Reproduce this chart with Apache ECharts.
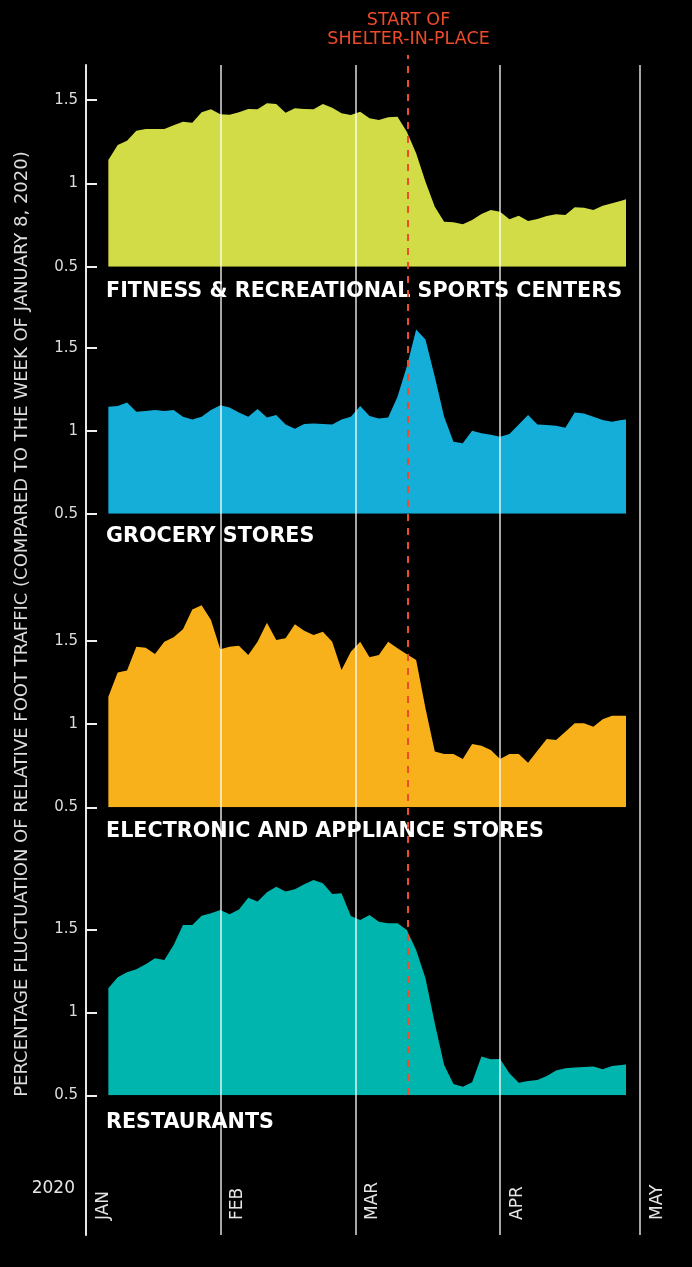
<!DOCTYPE html>
<html>
<head>
<meta charset="utf-8">
<script src="https://cdn.jsdelivr.net/npm/echarts@6/dist/echarts.min.js"></script>
<style>
  html, body { margin: 0; padding: 0; background: #000; }
  #chart { width: 692px; height: 1267px; }
</style>
</head>
<body>
<div id="chart"></div>
<script>
// one point every two days, Jan 8 -> Apr 28 2020
var dates = [
  '2020-01-08', '2020-01-10', '2020-01-12', '2020-01-14', '2020-01-16', '2020-01-18',
  '2020-01-20', '2020-01-22', '2020-01-24', '2020-01-26', '2020-01-28', '2020-01-30',
  '2020-02-01', '2020-02-03', '2020-02-05', '2020-02-07', '2020-02-09', '2020-02-11',
  '2020-02-13', '2020-02-15', '2020-02-17', '2020-02-19', '2020-02-21', '2020-02-23',
  '2020-02-25', '2020-02-27', '2020-02-29', '2020-03-02', '2020-03-04', '2020-03-06',
  '2020-03-08', '2020-03-10', '2020-03-12', '2020-03-14', '2020-03-16', '2020-03-18',
  '2020-03-20', '2020-03-22', '2020-03-24', '2020-03-26', '2020-03-28', '2020-03-30',
  '2020-04-01', '2020-04-03', '2020-04-05', '2020-04-07', '2020-04-09', '2020-04-11',
  '2020-04-13', '2020-04-15', '2020-04-17', '2020-04-19', '2020-04-21', '2020-04-23',
  '2020-04-25', '2020-04-27', '2020-04-28'
];

var fitness = [
  1.14, 1.23, 1.256, 1.316, 1.326, 1.326, 1.326, 1.348, 1.37, 1.364, 1.426, 1.444,
  1.414, 1.412, 1.426, 1.446, 1.444, 1.48, 1.476, 1.424, 1.45, 1.446, 1.444, 1.476,
  1.454, 1.42, 1.41, 1.43, 1.39, 1.38, 1.396, 1.40, 1.31, 1.18, 1.01, 0.86,
  0.77, 0.766, 0.754, 0.78, 0.816, 0.84, 0.83, 0.784, 0.806, 0.774, 0.786, 0.804,
  0.814, 0.81, 0.856, 0.854, 0.84, 0.866, 0.88, 0.896, 0.904
];

var grocery = [
  1.145, 1.149, 1.17, 1.114, 1.118, 1.125, 1.118, 1.125, 1.084, 1.068, 1.084, 1.125,
  1.153, 1.14, 1.11, 1.084, 1.13, 1.08, 1.094, 1.038, 1.012, 1.04, 1.044, 1.04,
  1.038, 1.068, 1.084, 1.149, 1.088, 1.074, 1.08, 1.205, 1.386, 1.61, 1.55, 1.325,
  1.084, 0.934, 0.924, 1.0, 0.984, 0.976, 0.964, 0.98, 1.038, 1.094, 1.038, 1.034,
  1.03, 1.018, 1.11, 1.104, 1.084, 1.064, 1.054, 1.064, 1.068
];

var electronics = [
  1.165, 1.31, 1.322, 1.466, 1.46, 1.422, 1.496, 1.522, 1.57, 1.69, 1.715, 1.626,
  1.45, 1.466, 1.472, 1.416, 1.496, 1.61, 1.506, 1.516, 1.6, 1.562, 1.536, 1.556,
  1.496, 1.326, 1.436, 1.496, 1.402, 1.416, 1.496, 1.456, 1.42, 1.386, 1.095, 0.835,
  0.82, 0.82, 0.79, 0.88, 0.87, 0.845, 0.79, 0.82, 0.82, 0.768, 0.84, 0.91,
  0.905, 0.955, 1.005, 1.005, 0.985, 1.029, 1.051, 1.051, 1.051
];

var restaurants = [
  1.145, 1.211, 1.241, 1.259, 1.289, 1.325, 1.315, 1.406, 1.526, 1.526, 1.582, 1.596,
  1.616, 1.59, 1.62, 1.69, 1.667, 1.723, 1.757, 1.727, 1.741, 1.771, 1.797, 1.777,
  1.713, 1.717, 1.58, 1.556, 1.586, 1.546, 1.536, 1.536, 1.496, 1.375, 1.205, 0.934,
  0.683, 0.568, 0.552, 0.578, 0.733, 0.717, 0.719, 0.633, 0.576, 0.586, 0.592, 0.616,
  0.649, 0.663, 0.667, 0.671, 0.673, 0.657, 0.677, 0.683, 0.685
];

var panelNames = ['FITNESS & RECREATIONAL SPORTS CENTERS', 'GROCERY STORES',
  'ELECTRONIC AND APPLIANCE STORES', 'RESTAURANTS'];
var panelColors = ['#d1dc46', '#14aed8', '#f8b11a', '#00b5ad'];
var yTicks = [0.5, 1, 1.5];
var monthStarts = ['2020-02-01', '2020-03-01', '2020-04-01', '2020-05-01'];
var monthNames = ['JAN', 'FEB', 'MAR', 'APR', 'MAY'];
var shelterDate = '2020-03-12 06:00';
var axisMin = '2020-01-03 05:00';
var axisMax = '2020-05-01';

// dates become plain timestamps on a value axis
var t = function (s) { return +echarts.time.parse(s); };
var seriesValues = [fitness, grocery, electronics, restaurants];

// layout of the four panels (px): grid top / bottom, axis max
var panels = [
  { top: 66.7, bottom: 1000.3, max: 1.7, labelY: 291.5 },
  { top: 314.5, bottom: 753.3, max: 1.7, labelY: 537 },
  { top: 591.1, bottom: 459.7, max: 1.8, labelY: 832 },
  { top: 862.9, bottom: 171.7, max: 1.9, labelY: 1123 }
];

var FONT = '"DejaVu Sans", sans-serif';
var chart = echarts.init(document.getElementById('chart'));

var grids = [{ left: 86, right: 52, top: 65, bottom: 32, outerBoundsMode: 'none' }];
var xAxes = [{
  gridIndex: 0, type: 'value', min: t(axisMin), max: t(axisMax),
  axisLine: { show: false }, axisTick: { show: false }, splitLine: { show: false },
  axisLabel: {
    inside: true, rotate: 90, margin: 15,
    customValues: [t(axisMin)].concat(monthStarts.map(t)),
    formatter: function (v) { return monthNames[new Date(v).getMonth()]; },
    verticalAlign: 'top', padding: [9, 0, 0, 0],
    color: '#e6e6e6', fontFamily: FONT, fontSize: 17
  }
}];
var yAxes = [{
  gridIndex: 0, type: 'value', min: 0, max: 1,
  axisLine: { show: true, lineStyle: { color: '#e6e6e6', width: 2 } },
  axisTick: { show: false }, axisLabel: { show: false }, splitLine: { show: false }
}];
var series = [];
var graphics = [];

panels.forEach(function (p, i) {
  var gi = i + 1;
  grids.push({ left: 86, right: 52, top: p.top, bottom: p.bottom, outerBoundsMode: 'none' });
  xAxes.push({ gridIndex: gi, type: 'value', min: t(axisMin), max: t(axisMax), show: false });
  yAxes.push({
    gridIndex: gi, type: 'value', min: 0.5, max: p.max,
    axisLine: { show: false }, splitLine: { show: false },
    axisTick: { show: true, inside: true, length: 11, customValues: yTicks,
      lineStyle: { color: '#eeeeee', width: 2 } },
    axisLabel: { customValues: yTicks, margin: 8, color: '#dddddd', fontFamily: FONT, fontSize: 15 }
  });
  series.push({
    name: panelNames[i], type: 'line', xAxisIndex: gi, yAxisIndex: gi,
    data: dates.map(function (d, k) { return [t(d), seriesValues[i][k]]; }),
    symbol: 'none', lineStyle: { width: 0 },
    areaStyle: { color: panelColors[i], opacity: 1, origin: 'start' },
    silent: true, z: 2
  });
  graphics.push({
    type: 'text', x: 106, y: p.labelY,
    style: { text: panelNames[i], fill: '#ffffff', fontFamily: FONT, fontWeight: 'bold',
      fontSize: 20.7, verticalAlign: 'middle', align: 'left' }
  });
});

// red shelter-in-place grid
grids.push({ left: 86, right: 52, top: 55, bottom: 172, outerBoundsMode: 'none' });
xAxes.push({ gridIndex: 5, type: 'value', min: t(axisMin), max: t(axisMax), show: false });
yAxes.push({ gridIndex: 5, type: 'value', min: 0, max: 1, show: false });

// month lines over everything
series.push({
  type: 'line', xAxisIndex: 0, yAxisIndex: 0, data: [], z: 10, silent: true,
  markLine: {
    silent: true, symbol: 'none', label: { show: false },
    lineStyle: { color: 'rgba(255,255,255,0.65)', width: 2, type: 'solid' },
    data: monthStarts.map(function (d) { return { xAxis: t(d) }; })
  }
});
series.push({
  type: 'line', xAxisIndex: 5, yAxisIndex: 5, data: [], z: 11, silent: true,
  markLine: {
    silent: true, symbol: 'none', label: { show: false },
    lineStyle: { color: '#ee4b2b', width: 2, type: [7, 7] },
    data: [{ xAxis: t(shelterDate) }]
  }
});

graphics.push({
  type: 'text', x: 408.5, y: 30,
  style: { text: 'START OF\nSHELTER-IN-PLACE', fill: '#ee4b2b', fontFamily: FONT,
    fontSize: 17.5, lineHeight: 19, align: 'center', verticalAlign: 'middle' }
});
graphics.push({
  type: 'text', x: 75, y: 1189,
  style: { text: '2020', fill: '#e6e6e6', fontFamily: FONT, fontSize: 17,
    align: 'right', verticalAlign: 'middle' }
});
graphics.push({
  type: 'text', x: 22, y: 624, rotation: Math.PI / 2,
  style: { text: 'PERCENTAGE FLUCTUATION OF RELATIVE FOOT TRAFFIC (COMPARED TO THE WEEK OF JANUARY 8, 2020)',
    fill: '#dddddd', fontFamily: FONT, fontSize: 18, align: 'center', verticalAlign: 'middle' }
});

chart.setOption({
  backgroundColor: '#000',
  animation: false,
  grid: grids,
  xAxis: xAxes,
  yAxis: yAxes,
  series: series,
  graphic: graphics
});
</script>
</body>
</html>
